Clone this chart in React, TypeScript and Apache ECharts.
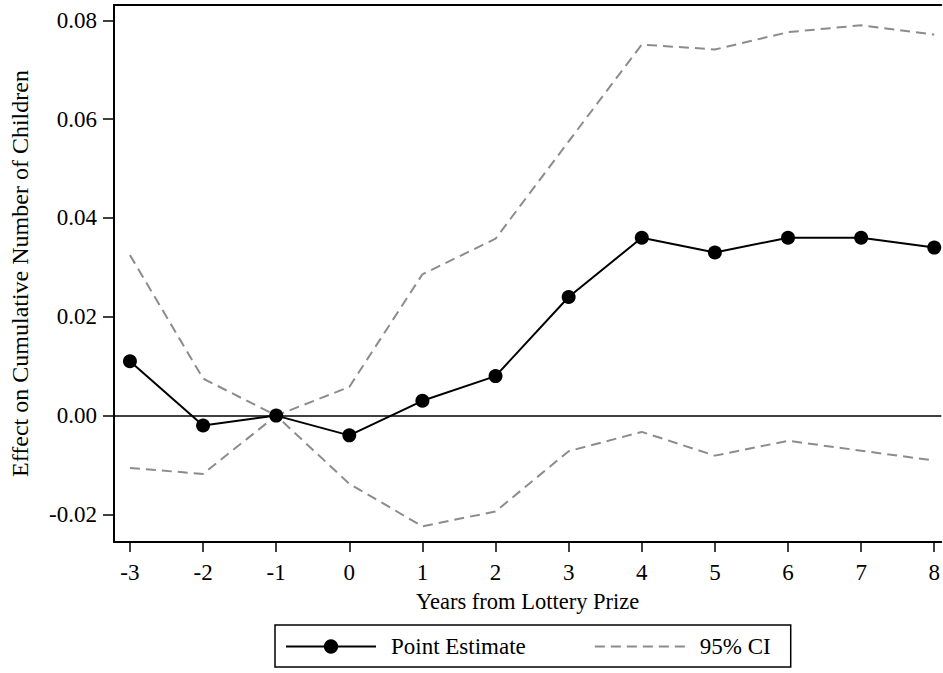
import React, { useEffect, useRef } from "react";
import * as echarts from "echarts";

const years = [-3, -2, -1, 0, 1, 2, 3, 4, 5, 6, 7, 8];
const pointEstimate = [0.011, -0.002, 0, -0.004, 0.003, 0.008, 0.024, 0.036, 0.033, 0.036, 0.036, 0.034];
const upperCI = [0.0325, 0.0075, 0, 0.0058, 0.0286, 0.0358, 0.0555, 0.0751, 0.0741, 0.0776, 0.079, 0.0771];
const lowerCI = [-0.0106, -0.0118, 0, -0.0138, -0.0224, -0.0194, -0.0072, -0.0033, -0.0081, -0.0051, -0.0071, -0.0091];
const xTicks = [-3, -2, -1, 0, 1, 2, 3, 4, 5, 6, 7, 8];
const yTicks = [-0.02, 0, 0.02, 0.04, 0.06, 0.08];

const FONT = '"Liberation Serif", "Times New Roman", Times, serif';

export default function App() {
  const ref = useRef<HTMLDivElement>(null);
  useEffect(() => {
    if (!ref.current) return;
    const chart = echarts.init(ref.current, null, { renderer: "svg" });
    const pair = (arr: number[]) => years.map((x, i) => [x, arr[i]]);
    chart.setOption({
      animation: false,
      backgroundColor: "#ffffff",
      textStyle: { fontFamily: FONT, color: "#000" },
      grid: { left: 114, right: 0, top: 5, bottom: 131, containLabel: false },
      legend: {
        data: [
          { name: "Point Estimate" },
          { name: "95% CI", itemStyle: { opacity: 0 } },
        ],
        left: 275,
        top: 625,
        orient: "horizontal",
        borderColor: "#000",
        borderWidth: 1.5,
        padding: [10, 20, 9, 10],
        itemWidth: 90,
        itemHeight: 18,
        itemGap: 68,
        textStyle: { fontFamily: FONT, fontSize: 23, color: "#000", padding: [0, 0, 0, 10] },
        selectedMode: false,
      },
      xAxis: [
        {
          type: "value",
          min: -3.218,
          max: 8.096,
          name: "Years from Lottery Prize",
          nameLocation: "middle",
          nameGap: 48,
          nameTextStyle: { fontFamily: FONT, fontSize: 22.5, color: "#000" },
          axisLine: { show: true, onZero: false, lineStyle: { color: "#000", width: 2 } },
          axisTick: { show: true, length: 10, customValues: xTicks, lineStyle: { color: "#000", width: 1.5 } },
          axisLabel: {
            customValues: xTicks,
            margin: 19,
            fontFamily: FONT,
            fontSize: 23,
            color: "#000",
            formatter: (v: number) => String(v),
          },
          splitLine: { show: false },
        },
        {
          type: "value",
          position: "top",
          min: -3.218,
          max: 8.096,
          axisLine: { show: true, onZero: false, lineStyle: { color: "#000", width: 2 } },
          axisTick: { show: false },
          axisLabel: { show: false },
          splitLine: { show: false },
        },
      ],
      yAxis: {
        type: "value",
        min: -0.02558,
        max: 0.0831,
        name: "Effect on Cumulative Number of Children",
        nameLocation: "middle",
        nameGap: 82,
        nameTextStyle: { fontFamily: FONT, fontSize: 24, color: "#000" },
        axisLine: { show: true, onZero: false, lineStyle: { color: "#000", width: 2 } },
        axisTick: { show: true, length: 11, customValues: yTicks, lineStyle: { color: "#000", width: 1.5 } },
        axisLabel: {
          customValues: yTicks,
          margin: 17,
          fontFamily: FONT,
          fontSize: 23,
          color: "#000",
          formatter: (v: number) => v.toFixed(2),
        },
        splitLine: { show: false },
      },
      series: [
        {
          name: "95% CI",
          type: "line",
          data: pair(upperCI),
          symbol: "none",
          lineStyle: { color: "#8c8c8c", width: 2, type: [10, 6] },
          itemStyle: { color: "#8c8c8c" },
          z: 2,
        },
        {
          name: "95% CI",
          type: "line",
          data: pair(lowerCI),
          symbol: "none",
          lineStyle: { color: "#8c8c8c", width: 2, type: [10, 6] },
          itemStyle: { color: "#8c8c8c" },
          z: 2,
        },
        {
          name: "Point Estimate",
          type: "line",
          data: pair(pointEstimate),
          symbol: "circle",
          symbolSize: 14,
          lineStyle: { color: "#000", width: 2 },
          itemStyle: { color: "#000" },
          z: 4,
          markLine: {
            silent: true,
            symbol: "none",
            label: { show: false },
            lineStyle: { color: "#000", width: 1.5, type: "solid" },
            data: [{ yAxis: 0 }],
            z: 1,
          },
        },
      ],
    });
    return () => chart.dispose();
  }, []);
  return <div ref={ref} style={{ width: 943, height: 673, position: "absolute", left: 0, top: 0 }} />;
}
